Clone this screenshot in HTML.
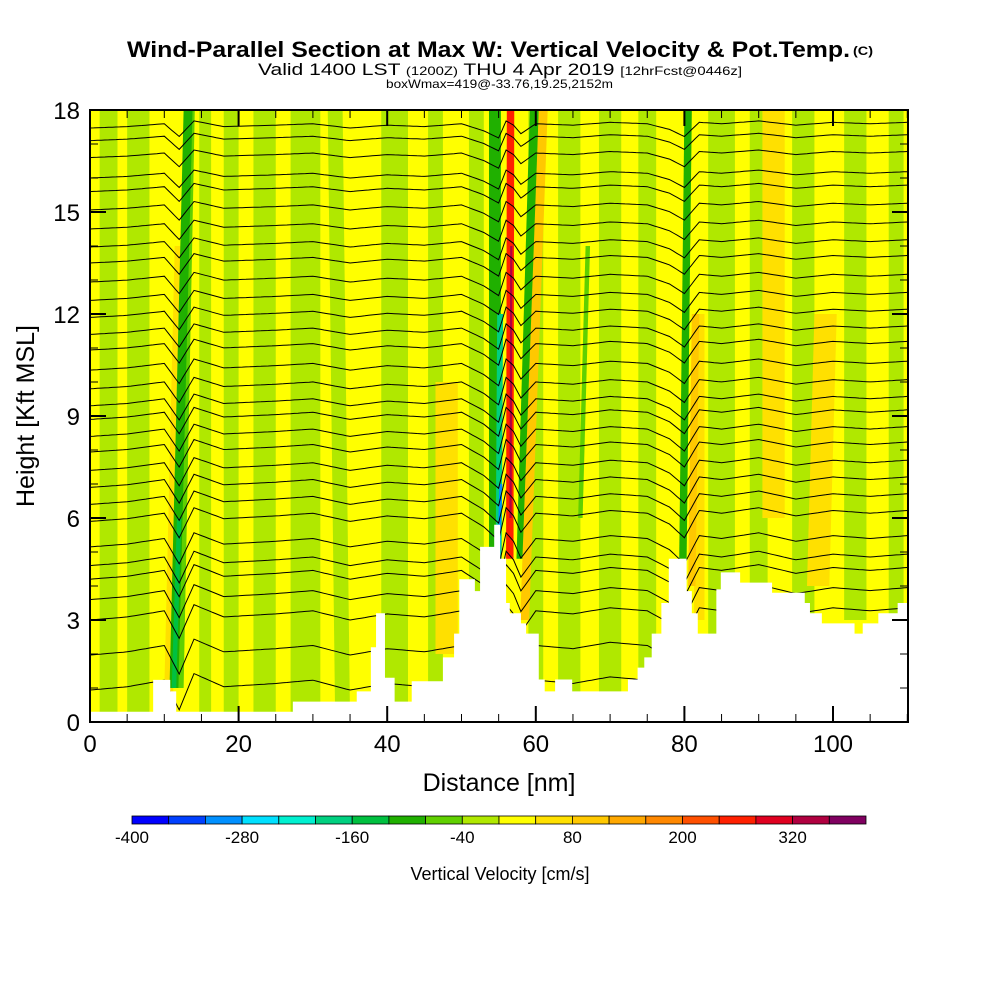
<!DOCTYPE html>
<html><head><meta charset="utf-8"><style>
html,body{margin:0;padding:0;background:#fff;}
svg{display:block;font-family:"Liberation Sans",sans-serif;}
</style></head><body>
<svg id="chart" width="1000" height="1000" viewBox="0 0 1000 1000" xmlns="http://www.w3.org/2000/svg">
<text x="127" y="57" font-size="22" font-weight="bold" textLength="723" lengthAdjust="spacingAndGlyphs">Wind-Parallel Section at Max W: Vertical Velocity &amp; Pot.Temp.</text>
<text x="853" y="55" font-size="12" font-weight="bold" textLength="20" lengthAdjust="spacingAndGlyphs">(C)</text>
<text x="258" y="75" font-size="17" textLength="484" lengthAdjust="spacingAndGlyphs">Valid 1400 LST <tspan font-size="12">(1200Z)</tspan> THU 4 Apr 2019 <tspan font-size="12">[12hrFcst@0446z]</tspan></text>
<text x="386" y="88" font-size="12" textLength="227" lengthAdjust="spacingAndGlyphs">boxWmax=419@-33.76,19.25,2152m</text>
<defs><clipPath id="plotclip"><rect x="90" y="110" width="818" height="612"/></clipPath></defs>
<g id="fill" clip-path="url(#plotclip)"></g>
<g id="contours" clip-path="url(#plotclip)"></g>
<g id="terrain" clip-path="url(#plotclip)"></g>
<rect x="90" y="110" width="818" height="612" fill="none" stroke="#000" stroke-width="2"/>
<g id="axes"></g>
<text x="499" y="791" font-size="25" text-anchor="middle">Distance [nm]</text>
<text x="0" y="0" font-size="25" text-anchor="middle" transform="translate(34,416) rotate(-90)">Height [Kft MSL]</text>
<g id="colorbar"></g>
<text x="500" y="880" font-size="18" text-anchor="middle">Vertical Velocity [cm/s]</text>
</svg>
<script>
const binColors=["#0000ff","#0040ff","#0090ff","#00e0ff","#00f0d0","#00d080","#00c040","#20b000","#60d000","#b0e800","#ffff00","#ffe000","#ffc800","#ffa800","#ff8800","#ff5000","#ff2000","#e00020","#b00040","#800060"];
const cbLabels=[-400,-280,-160,-40,80,200,320];
const xTicks=[0,20,40,60,80,100];
const yTicks=[0,3,6,9,12,15,18];
// features: bottom-x (nm), top-x (nm), w (cm/s), half width (nm), bottom kft, top kft
const featBottomX=[2.5,6.5,15.5,19,23.5,29,34,41,46.5,52,60,64.5,70,75,85,90,96,103,108.5,10.5,48,82,92,98,12,66,11.3,11.3,54.5,55,55,58,58.5,56.5,56.6,79.8,81];
const featTopX=[2.5,6.5,15.5,19,23.5,29,33,41,46.5,52,60,64.5,70,75,85,90,96,103,108.5,12,48,82,92,99,13.5,67,13.2,12,54.5,55.2,55.3,59.8,61,56.6,56.7,80.5,81.5];
const featW=[-20,-20,-20,-20,-20,-20,-20,-20,-20,-20,-20,-20,-20,-20,-20,-20,-20,-20,-20,60,60,60,60,60,-60,-60,-100,-140,-100,-200,-320,-100,100,240,340,-100,100];
const featHalf=[1.2,1.5,0.8,1,1.5,2,1,1.8,1,1,1,1.5,1.5,1.2,1.8,1.2,1.5,1.5,1,0.6,1.5,0.7,1.5,1.5,0.6,0.3,0.6,0.3,0.8,0.4,0.2,0.6,0.6,0.5,0.15,0.5,0.5];
const featBot=[0,0,0,0,0,0,0,0,0,0,0,0,0,0,0,3,3,3,3,0,2,3,6,4,1,6,1,1,4.8,4.8,4.8,4.8,3,4.8,6,4.8,4];
const featTop=[18,18,18,18,18,18,18,18,18,18,18,18,18,18,18,18,18,18,18,14,10,12,18,12,18,14,18,6,18,12,7,18,18,18,14,18,12];
const thetaBase=[17.47,17.1,16.6,16.0,15.6,15.06,14.5,13.97,13.5,12.94,12.4,11.9,11.4,10.94,10.35,9.8,9.3,8.9,8.4,7.94,7.4,6.9,6.4,5.9,5.15,4.6,4.2,3.6,3.0,1.97,0.94];
const dispX=[0,5,10,12,14,18,25,30,35,40,45,50,53,55,56,57,58,60,65,70,75,78,80,82,85,90,95,100,105,110];
const dispK=[0,0.05,0.15,-0.3,0.25,0.05,0.1,0.15,0.0,0.1,0.05,0.15,-0.1,-0.35,0.25,0.1,-0.2,0.15,0.1,0.2,0.15,-0.05,-0.3,0.2,0.15,0.25,0.1,0.2,0.15,0.2];
const terrX=[0,8.5,10.8,11.6,27.3,35.9,37.8,38.5,39.7,41.0,43.3,47.5,49.0,49.7,51.8,52.5,54.4,55.2,56.0,56.5,58.0,58.7,60.4,61.2,62.6,64.9,72.4,73.7,74.6,75.6,76.9,77.9,80.3,81.0,81.8,84.3,84.9,87.5,91.8,96.2,96.9,98.5,102.9,104.0,106.1,108.7,110.1];
const terrH=[0.3,1.24,0.9,0.3,0.6,0.9,2.2,3.2,1.3,0.6,1.2,1.9,2.6,4.2,3.85,5.15,5.8,4.8,3.5,3.2,2.9,2.6,1.25,0.9,1.25,0.9,1.25,1.6,1.9,2.6,3.5,4.8,3.85,3.2,2.6,3.9,4.4,4.1,3.8,3.5,3.2,2.9,2.6,2.9,3.2,3.5,3.5];

const NS="http://www.w3.org/2000/svg";
const X=nm=>90+nm*7.43;
const Y=k=>722-k*34;
const colorFor=w=>binColors[Math.max(0,Math.min(19,Math.floor((w+400)/40)))];
function mk(tag,attrs,parent){const e=document.createElementNS(NS,tag);for(const k in attrs)e.setAttribute(k,attrs[k]);parent.appendChild(e);return e;}

const fill=document.getElementById('fill');
const bg=mk('rect',{x:90,y:110,width:818,height:612,fill:colorFor(20)},fill);


for(let i=0;i<featW.length;i++){
  const b=featBot[i],t=featTop[i],h=featHalf[i];
  const xb=featBottomX[i],xt=featTopX[i];
  const pts=[[X(xb-h),Y(b)],[X(xt-h),Y(t)],[X(xt+h),Y(t)],[X(xb+h),Y(b)]];
  const p=mk('polygon',{points:pts.map(q=>q.join(',')).join(' '),fill:colorFor(featW[i])},fill);
  
  
}
function disp(nm){
  for(let i=0;i<dispX.length-1;i++){if(nm<=dispX[i+1]){const f=(nm-dispX[i])/(dispX[i+1]-dispX[i]);return dispK[i]+f*(dispK[i+1]-dispK[i]);}}
  return dispK[dispK.length-1];
}
const cont=document.getElementById('contours');
thetaBase.forEach((k,j)=>{
  const amp=0.8+1.2*(1-k/18);
  let pts=[];
  for(let nm=0;nm<=110.2;nm+=0.5){pts.push(X(nm).toFixed(1)+','+Y(k+amp*disp(nm)).toFixed(1));}
  const l=mk('polyline',{points:pts.join(' '),fill:'none',stroke:'#000','stroke-width':1},cont);
  
  
});
const terr=document.getElementById('terrain');
let tp=[[X(0),Y(0)]];
for(let i=0;i<terrX.length-1;i++){tp.push([X(terrX[i]),Y(terrH[i])]);tp.push([X(terrX[i+1]),Y(terrH[i])]);}
tp.push([X(terrX[terrX.length-1]),Y(0)]);
const tpoly=mk('polygon',{points:tp.map(q=>q.join(',')).join(' '),fill:'#fff'},terr);



const axes=document.getElementById('axes');
for(let nm=0;nm<=110;nm+=5){
  const major=nm%20===0, len=major?16:8;
  mk('line',{x1:X(nm),y1:722,x2:X(nm),y2:722-len,stroke:'#000','stroke-width':major?2:1},axes);
  mk('line',{x1:X(nm),y1:110,x2:X(nm),y2:110+len,stroke:'#000','stroke-width':major?2:1},axes);
}
for(let k=0;k<=18;k++){
  const major=k%3===0,len=major?16:8;
  mk('line',{x1:90,y1:Y(k),x2:90+len,y2:Y(k),stroke:'#000','stroke-width':major?2:1},axes);
  mk('line',{x1:908,y1:Y(k),x2:908-len,y2:Y(k),stroke:'#000','stroke-width':major?2:1},axes);
}
xTicks.forEach(v=>{const t=mk('text',{x:X(v),y:752,'font-size':24,'text-anchor':'middle'},axes);t.textContent=v;
  
  });
yTicks.forEach(v=>{const t=mk('text',{x:80,y:Y(v)+9,'font-size':24,'text-anchor':'end'},axes);t.textContent=v;
  
  });

const cb=document.getElementById('colorbar');
const cbX=v=>132+(v+400)/800*734;
binColors.forEach((c,i)=>{const r=mk('rect',{x:cbX(-400+i*40),y:816,width:734/20,height:8,fill:c,stroke:'#000','stroke-width':0.8},cb);
  
  });
cbLabels.forEach(v=>{const t=mk('text',{x:cbX(v),y:843,'font-size':17,'text-anchor':'middle'},cb);t.textContent=v;
  
  });
</script>
</body></html>
